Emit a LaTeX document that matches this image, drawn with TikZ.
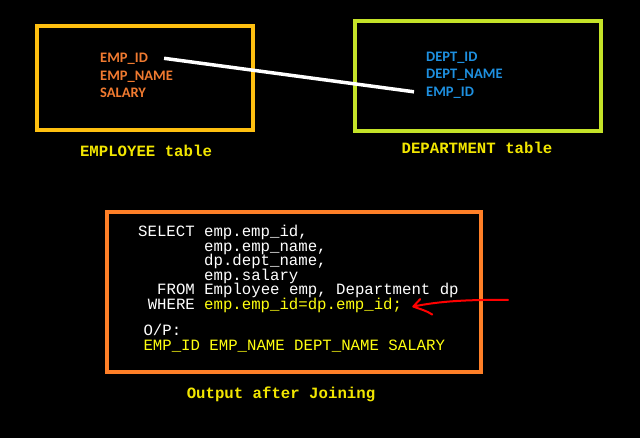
\documentclass[tikz,border=0pt]{standalone}
\usepackage{fontspec}
\newfontfamily\fieldfont{Carlito}[Scale=1]
\newfontfamily\codefont{Liberation Mono}
\definecolor{boxgold}{HTML}{FFC010}
\definecolor{boxlime}{HTML}{C4E228}
\definecolor{boxorange}{HTML}{FF7F27}
\definecolor{fieldorange}{HTML}{F07A30}
\definecolor{fieldblue}{HTML}{1E90E0}
\definecolor{labelyellow}{HTML}{F2E600}
\definecolor{codeyellow}{HTML}{FFFF10}
\tikzset{
  field/.style={inner sep=0pt, anchor=base west, font=\fieldfont\bfseries\fontsize{14.5}{17}\selectfont},
  empfield/.style={field, text=fieldorange},
  deptfield/.style={field, text=fieldblue},
  caption/.style={inner sep=0pt, anchor=base, text=labelyellow, font=\codefont\bfseries\fontsize{15.7}{16}\selectfont},
  code/.style={inner sep=0pt, anchor=base west, text=white, text height=10pt, text depth=2.5pt, font=\codefont\fontsize{15.7}{16}\selectfont},
  ycode/.style={code, text=codeyellow},
  tablebox/.style={line width=4pt},
}
\begin{document}
\begin{tikzpicture}[x=1pt,y=-1pt]
\fill[black] (0,0) rectangle (640,438);
\useasboundingbox (0,0) rectangle (640,438);
% boxes
\draw[tablebox, boxgold] (37,26) rectangle (252.5,129.7);
\draw[tablebox, boxlime] (355,21) rectangle (601,130.7);
\draw[tablebox, boxorange] (107,212) rectangle (481,372);
% employee fields
\node[empfield] (e1) at (100,63) {EMP\_ID};
\node[empfield] (e2) at (100,80.5) {EMP\_NAME};
\node[empfield] (e3) at (100,98) {SALARY};
% department fields
\node[deptfield] (d1) at (426,61.5) {DEPT\_ID};
\node[deptfield] (d2) at (426,79) {DEPT\_NAME};
\node[deptfield] (d3) at (426,96.5) {EMP\_ID};
% join line
\draw[white, line width=3.5pt] ([xshift=16pt,yshift=1pt]e1.east) -- ([xshift=-12pt,yshift=1pt]d3.west);
% captions
\node[caption] (cap1) at (146,156.5) {EMPLOYEE table};
\node[caption] (cap2) at (477,154) {DEPARTMENT table};
\node[caption] (cap3) at (281,398) {Output after Joining};
% code
\node[code] (l1) at (138,236.7) {SELECT emp.emp\_id,};
\node[code] (l2) at (204,251.2) {emp.emp\_name,};
\node[code] (l3) at (204,265.7) {dp.dept\_name,};
\node[code] (l4) at (204,280.2) {emp.salary};
\node[code] (l5) at (157,294.8) {FROM Employee emp, Department dp};
\node[code] (l6) at (147.6,309.3) {WHERE};
\node[ycode] (l6b) at (204,309.3) {emp.emp\_id=dp.emp\_id;};
\node[code] (l7) at (143.3,335.5) {O/P:};
\node[ycode] (l8) at (143.3,351) {EMP\_ID EMP\_NAME DEPT\_NAME SALARY};
% red hand-drawn arrow
\coordinate (tip) at ([xshift=11pt,yshift=-1pt]l6b.east);
\coordinate (tail) at (508,300);
\draw[red, line width=2pt, line cap=round, line join=round]
  (tail) .. controls (470,299.5) and (440,301) .. (tip)
  (tip) -- ++(7,-7.5)
  (tip) .. controls ++(8,3) and ++(-6,-4) .. ++(19,8);
\end{tikzpicture}
\end{document}
